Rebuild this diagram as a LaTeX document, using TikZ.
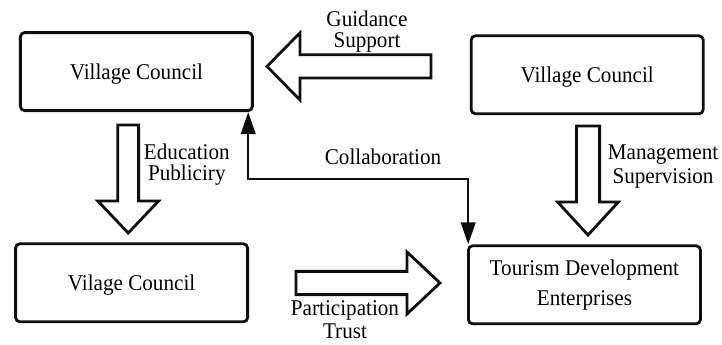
\documentclass[tikz,border=0pt]{standalone}
\usepackage{fontspec}
\setmainfont{Liberation Serif}[FakeStretch=0.94]
\usetikzlibrary{arrows.meta,positioning,calc}
\definecolor{councilink}{RGB}{15,15,15}
\tikzset{
  council box/.style={
    draw=councilink,
    rounded corners=3pt,
    line width=2pt,
    minimum width=5.8cm,
    minimum height=1.95cm,
    align=center,
    text height=15pt,
    text depth=3.5pt,
    font=\fontsize{16}{21.3}\selectfont,
  },
  block arrow/.style={
    draw=councilink,
    line width=2pt,
    line join=miter,
    fill=white,
  },
  flow arrow/.style={
    {Triangle[length=5.5mm,width=3.6mm]}-{Triangle[length=5.5mm,width=3.6mm]},
    line width=1.8pt,
    draw=councilink,
  },
  flow label/.style={
    align=center,
    inner sep=0pt,
    anchor=north,
    font=\fontsize{16}{16.5}\selectfont,
  },
}

\begin{document}
\begin{tikzpicture}[x=1cm,y=1cm]
  \useasboundingbox (0,0) rectangle (18.05,8.6);

  \node[council box] (vcup) at (3.41,6.81) {Village Council};
  \node[council box] (vcright) at (14.68,6.73) {Village Council};
  \node[council box] (vcdown) at (3.29,1.53) {Vilage Council};
  \node[council box, text height=, text depth=] (tde) at (14.61,1.48) {Tourism Development\\Enterprises};

  % block arrows
  \draw[block arrow] (6.675,6.94) -- (7.5,7.78) -- (7.5,7.23) -- (10.775,7.23)
    -- (10.775,6.65) -- (7.5,6.65) -- (7.5,6.1) -- cycle;
  \draw[block arrow] (3.205,2.775) -- (3.965,3.575) -- (3.465,3.575) -- (3.465,5.475)
    -- (2.945,5.475) -- (2.945,3.575) -- (2.445,3.575) -- cycle;
  \draw[block arrow] (14.7,2.725) -- (15.46,3.55) -- (14.99,3.55) -- (14.99,5.45)
    -- (14.41,5.45) -- (14.41,3.55) -- (13.94,3.55) -- cycle;
  \draw[block arrow] (11.0,1.525) -- (10.175,2.3) -- (10.175,1.815) -- (7.4,1.815)
    -- (7.4,1.235) -- (10.175,1.235) -- (10.175,0.75) -- cycle;

  \node[flow label, font=\fontsize{16}{15}\selectfont] (guide) at (9.175,8.33) {Guidance\\Support};
  \node[flow label, font=\fontsize{16}{15.4}\selectfont] (edu) at (4.67,5.02) {Education\\Publiciry};
  \node[flow label] (collab) at (9.575,4.89) {Collaboration};
  \node[flow label] (mgmt) at (16.575,4.98) {Management\\Supervision};
  \node[flow label] (part) at (8.625,1.1) {Participation\\Trust};

  % collaboration link
  \coordinate (collabL) at ($(vcup.south east)+(-0.14,0)$);
  \coordinate (collabR) at ($(tde.north west)+(0.03,0)$);
  \draw[flow arrow] (collabL) -- ++(0,-1.68) -| (collabR);
\end{tikzpicture}
\end{document}
